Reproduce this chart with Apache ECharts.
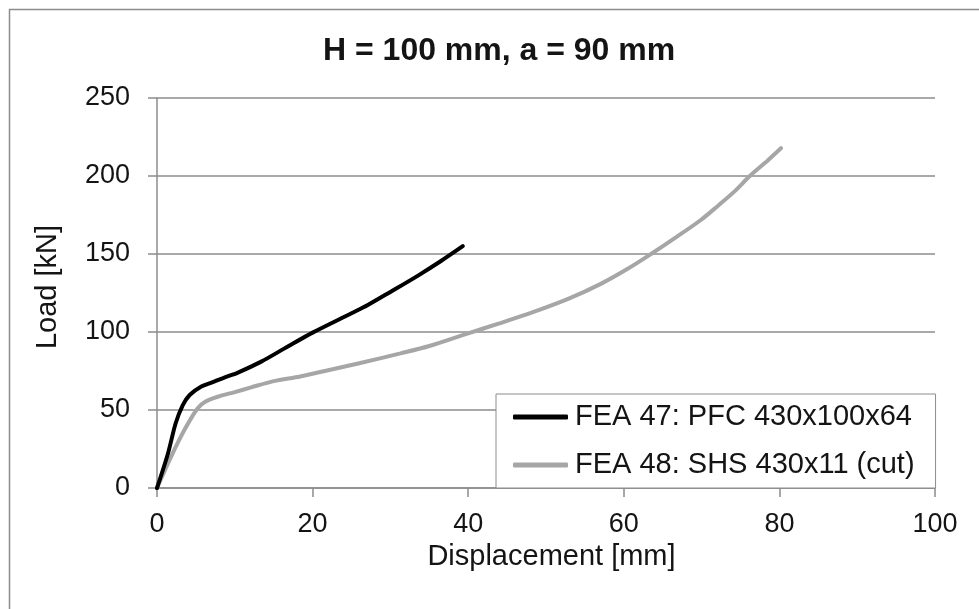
<!DOCTYPE html>
<html>
<head>
<meta charset="utf-8">
<script src="https://cdn.jsdelivr.net/npm/echarts@6/dist/echarts.min.js"></script>
<style>
  html, body { margin: 0; padding: 0; background: #fff; }
  #chart { width: 979px; height: 609px; }
</style>
</head>
<body>
<div id="chart"></div>
<script>
// Load–displacement curves from the two finite element runs
const titleText = 'H = 100 mm, a = 90 mm';
const xAxisName = 'Displacement [mm]';
const yAxisName = 'Load [kN]';
const seriesNames = ['FEA 47: PFC 430x100x64', 'FEA 48: SHS 430x11 (cut)'];

// FEA 47 (PFC section)
const fea47Disp = [0, 1.4, 2.4, 3.3, 4.2, 5.7, 7, 8.5, 10.4, 13.4, 16.4, 20, 25, 27.1, 30, 33.5, 36.5, 39.3];
const fea47Load = [0, 22, 41.5, 53, 59.6, 65, 67.5, 70.5, 74, 81, 89.5, 99.6, 112, 117.3, 125.7, 136, 145.5, 155];

// FEA 48 (SHS section, cut)
const fea48Disp = [0, 1.8, 3.5, 5.2, 6.2, 7.8, 10, 12.1, 15, 18.4, 22, 26, 31.3, 35, 39.9, 44, 48.5, 53, 57.1, 60.5, 63.5, 66.5, 69.9, 72, 74.2, 76.2, 78.5, 80.2];
const fea48Load = [0, 20, 37, 51, 55.3, 58.5, 61.5, 64.5, 68.5, 71.5, 75.5, 80, 86.3, 91, 99, 105.5, 113, 121.5, 131, 140.5, 150, 160, 171.8, 180.5, 190, 200, 210, 217.8];

const xTicks = [0, 20, 40, 60, 80, 100];
const yTicks = [0, 50, 100, 150, 200, 250];

const pairs = (xs, ys) => xs.map((x, i) => [x, ys[i]]);

const font = '"Liberation Sans", Arial, sans-serif';
const textColor = '#141414';
const gridColor = '#8c8c8c';

const chart = echarts.init(document.getElementById('chart'), null, { renderer: 'canvas' });

chart.setOption({
  animation: false,
  backgroundColor: '#ffffff',
  textStyle: { fontFamily: font },
  graphic: [{
    type: 'rect',
    left: 7, top: 7,
    shape: { width: 1000, height: 700 },
    style: { fill: 'none', stroke: '#8c8c8c', lineWidth: 1.5 },
    silent: true
  }],
  title: {
    text: titleText,
    left: 318,
    top: 28,
    textStyle: { fontFamily: font, fontSize: 32, fontWeight: 'bold', color: textColor, lineHeight: 36 }
  },
  grid: { left: 157, right: 44, top: 98, bottom: 121 },
  legend: {
    orient: 'vertical',
    left: 496,
    top: 394,
    padding: [7, 21, 7, 17],
    itemGap: 16,
    itemWidth: 55,
    itemHeight: 5,
    icon: 'roundRect',
    backgroundColor: '#ffffff',
    borderColor: '#8c8c8c',
    borderWidth: 1,
    textStyle: { fontFamily: font, fontSize: 29, color: textColor, lineHeight: 32, padding: [0, 0, 0, 2] },
    data: seriesNames
  },
  xAxis: {
    type: 'value',
    min: xTicks[0],
    max: xTicks[xTicks.length - 1],
    interval: 20,
    name: xAxisName,
    nameLocation: 'middle',
    nameGap: 53,
    nameTextStyle: { fontFamily: font, fontSize: 29, color: textColor, padding: [0, 0, 0, 11] },
    axisLine: { show: true, lineStyle: { color: gridColor, width: 1.5 } },
    axisTick: { show: true, inside: false, length: 9, lineStyle: { color: gridColor, width: 1.5 } },
    axisLabel: { margin: 23, fontFamily: font, fontSize: 27, color: textColor },
    splitLine: { show: false }
  },
  yAxis: {
    type: 'value',
    min: yTicks[0],
    max: yTicks[yTicks.length - 1],
    interval: 50,
    name: yAxisName,
    nameLocation: 'middle',
    nameGap: 95,
    nameTextStyle: { fontFamily: font, fontSize: 29, color: textColor, padding: [0, 0, 0, 12] },
    axisLine: { show: true, lineStyle: { color: gridColor, width: 1.5 } },
    axisTick: { show: true, inside: false, length: 9, lineStyle: { color: gridColor, width: 1.5 } },
    axisLabel: { margin: 27, fontFamily: font, fontSize: 27, color: textColor },
    splitLine: { show: true, lineStyle: { color: gridColor, width: 1.5 } }
  },
  series: [
    {
      name: seriesNames[0],
      type: 'line',
      data: pairs(fea47Disp, fea47Load),
      smooth: 0.3,
      showSymbol: false,
      symbol: 'none',
      color: '#000000',
      lineStyle: { color: '#000000', width: 4, cap: 'round' },
      z: 3
    },
    {
      name: seriesNames[1],
      type: 'line',
      data: pairs(fea48Disp, fea48Load),
      smooth: 0.3,
      showSymbol: false,
      symbol: 'none',
      color: '#a6a6a6',
      lineStyle: { color: '#a6a6a6', width: 4, cap: 'round' },
      z: 2
    }
  ]
});
</script>
</body>
</html>
